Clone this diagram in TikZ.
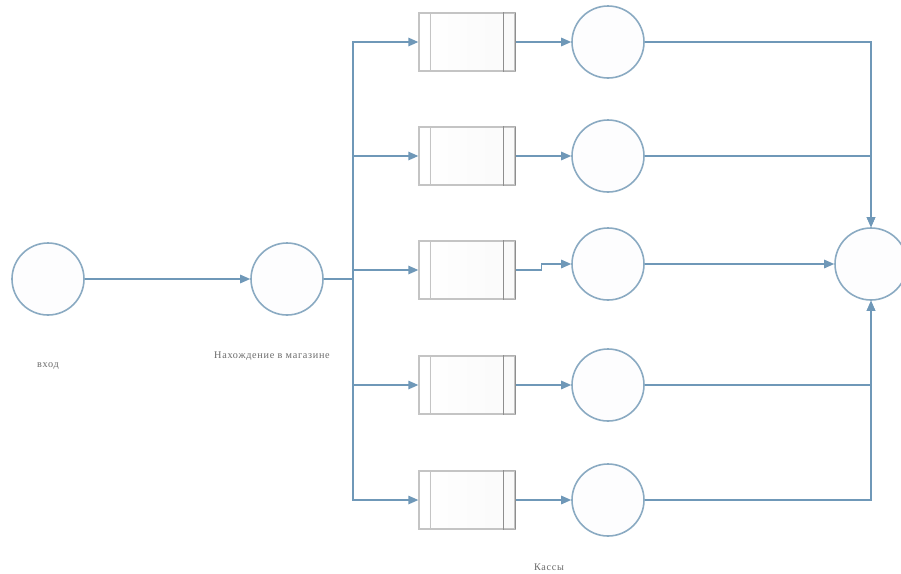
\documentclass[tikz,border=0pt]{standalone}
\usepackage{fontspec}
\setmainfont{Liberation Serif}
\newfontfamily\labelfont[LetterSpace=7]{Liberation Serif}
\usetikzlibrary{arrows.meta,positioning}
\definecolor{flow}{HTML}{6F98B8}
\definecolor{ring}{HTML}{8AAAC2}
\definecolor{qedge}{HTML}{C4C4C4}
\definecolor{qdark}{HTML}{8E8E8E}
\definecolor{txt}{HTML}{6A6A6A}

\begin{document}
\begin{tikzpicture}[x=1pt,y=-1pt,
  state/.style={circle,draw=ring,line width=1.6pt,fill=ring!2,inner sep=0pt,minimum size=72pt},
  queue/.style={rectangle,draw=qedge,line width=1.3pt,left color=white,right color=gray!4,inner sep=0pt,minimum width=96pt,minimum height=58pt},
  flowline/.style={draw=flow,line width=1.3pt},
  arr/.style={flowline,-{Triangle[length=10pt,width=8.5pt]}},
  lbl/.style={text=txt,font=\labelfont\fontsize{10.2}{11}\selectfont}]
\useasboundingbox (0,0) rectangle (901,573);

% entry and shop
\node[state] (entry) at (48,279) {};
\node[state] (shop) at (287,279) {};
\node[state] (out) at (871,264) {};
\node[lbl] (entrylbl) at (48,366) {вход};
\node[lbl] (shoplbl) at (272,356) {Нахождение в магазине};
\node[lbl] (cashlbl) at (549,567) {Кассы};

\draw[arr] (entry) -- (shop);
\coordinate (split) at (353,279);
\draw[flowline] (shop.east) -- (split);

% queues and cashiers
\foreach \i/\yq/\yk in {1/42/42,2/156/156,3/270/264,4/385/385,5/500/500}{
  \node[queue] (q\i) at (467,\yq) {};
  \draw[qedge,line width=1.1pt] ([xshift=12pt]q\i.north west) -- ([xshift=12pt]q\i.south west);
  \draw[qdark,line width=1.3pt] ([xshift=-12pt]q\i.north east) -- ([xshift=-12pt]q\i.south east);
  \draw[qdark,line width=1.3pt] (q\i.north east) -- (q\i.south east);
  \draw[gray!60,line width=1.3pt] ([xshift=-12pt]q\i.north east) -- (q\i.north east);
  \draw[gray!60,line width=1.3pt] ([xshift=-12pt]q\i.south east) -- (q\i.south east);
  \node[state] (k\i) at (608,\yk) {};
  \draw[arr] (split) |- (q\i.west);
}
\draw[arr] (q1.east) -- (k1.west);
\draw[arr] (q2.east) -- (k2.west);
\draw[arr] (q3.east) -- ++(26,0) |- (k3.west);
\draw[arr] (q4.east) -- (k4.west);
\draw[arr] (q5.east) -- (k5.west);

% to exit
\draw[arr] (k1.east) -| (out.north);
\draw[arr] (k2.east) -| (out.north);
\draw[arr] (k3.east) -- (out.west);
\draw[arr] (k4.east) -| (out.south);
\draw[arr] (k5.east) -| (out.south);
\end{tikzpicture}
\end{document}
